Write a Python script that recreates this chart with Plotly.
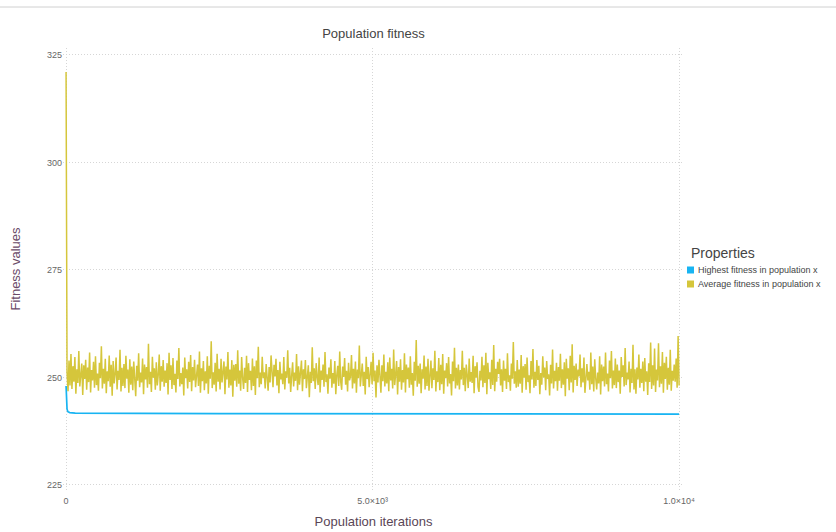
import plotly.graph_objects as go

# Best (lowest) fitness in the population per iteration
best_iter = [0, 8, 16, 30, 60, 150, 400, 1200, 2500, 4600, 5100, 7500, 10000]
best_fit = [248.0, 244.8, 242.6, 242.0, 241.8, 241.7, 241.65, 241.6, 241.58,
            241.55, 241.5, 241.48, 241.45]

# Average fitness: first iterations, then sampled every 16 iterations
avg_head_iter = [0, 3, 6, 10]
avg_head_fit = [321.0, 296.0, 277.0, 262.0]
avg_step = 16
avg_fit_tail = [
    251.2, 246.8, 253.9, 248.1, 255.4, 247.3, 252.6, 249.0, 254.7, 246.2, 251.9, 248.7, 256.1, 247.9, 250.4, 253.2, 245.9, 252.8, 249.6, 254.1,
    247.1, 252.3, 248.9, 255.8, 246.5, 251.7, 249.3, 253.6, 247.6, 254.9, 248.2, 250.9, 246.9, 253.4, 249.8, 257.2, 247.4, 252.0, 248.5, 254.3,
    246.3, 251.4, 249.1, 255.1, 247.8, 252.9, 245.7, 253.8, 248.6, 250.7, 254.6, 247.2, 251.5, 249.4, 256.4, 246.7, 252.2, 248.0, 253.1, 247.5,
    255.0, 249.7, 251.8, 246.4, 254.2, 248.3, 252.5, 247.0, 253.7, 250.1, 245.6, 252.7, 249.2, 255.6, 247.7, 251.1, 248.8, 254.4, 246.1, 253.0,
    249.5, 252.4, 247.6, 257.8, 248.4, 251.3, 246.6, 254.8, 249.9, 252.1, 247.1, 253.5, 248.1, 250.6, 255.3, 246.9, 252.6, 249.0, 254.0, 247.8,
    251.6, 248.7, 253.3, 246.0, 255.7, 249.4, 252.8, 247.3, 254.5, 248.2, 250.8, 246.5, 253.9, 249.6, 256.8, 247.9, 251.0, 248.4, 252.3, 245.8,
    254.6, 249.8, 251.9, 247.4, 253.6, 248.9, 255.2, 246.8, 252.4, 249.3, 254.1, 247.7, 250.5, 253.0, 248.0, 256.0, 246.4, 252.1, 249.1, 253.8,
    247.0, 251.4, 248.6, 254.9, 246.2, 252.7, 249.7, 258.4, 247.5, 251.2, 248.3, 253.4, 246.7, 255.5, 249.0, 252.0, 247.2, 254.3, 248.8, 250.9,
    253.7, 246.1, 252.5, 249.5, 255.9, 247.6, 251.8, 248.1, 254.0, 245.5, 252.9, 249.2, 253.1, 247.8, 256.3, 248.5, 251.6, 246.9, 254.7, 249.9,
    247.3, 252.2, 248.7, 255.0, 246.6, 253.3, 249.4, 251.5, 247.0, 254.4, 248.0, 252.6, 245.9, 253.9, 249.8, 257.1, 247.7, 251.1, 248.4, 254.8,
    249.8, 251.2, 247.4, 253.1, 250.6, 246.9, 252.4, 248.8, 255.1, 249.3, 247.7, 252.9, 250.2, 254.3, 248.1, 251.7, 246.3, 253.6, 249.5, 250.9,
    248.4, 254.7, 247.2, 251.4, 249.9, 256.3, 248.6, 252.2, 246.6, 250.4, 253.5, 247.9, 251.1, 249.2, 255.4, 247.0, 252.6, 248.3, 250.8, 253.9,
    246.8, 251.9, 249.6, 254.0, 247.5, 250.3, 252.8, 245.4, 251.3, 248.7, 257.0, 249.1, 252.1, 247.3, 253.3, 250.0, 248.2, 254.6, 246.5, 251.6,
    249.4, 253.0, 247.8, 255.9, 248.9, 250.7, 246.2, 252.3, 249.7, 254.2, 247.6, 251.0, 248.5, 253.8, 246.1, 250.5, 252.7, 248.0, 256.0, 249.0,
    247.1, 252.5, 250.1, 254.5, 248.3, 251.5, 246.7, 253.4, 249.3, 250.2, 255.2, 247.4, 252.0, 248.6, 253.7, 246.4, 251.8, 249.8, 257.4, 247.9,
    250.6, 253.2, 248.0, 251.3, 246.0, 254.8, 249.6, 252.4, 247.7, 250.9, 253.6, 248.4, 255.7, 249.1, 251.6, 245.3, 252.8, 248.8, 254.1, 250.3,
    246.4, 252.8, 249.1, 255.3, 247.9, 251.3, 248.6, 253.5, 246.8, 254.6, 249.3, 252.0, 247.4, 256.5, 248.2, 250.7, 253.8, 246.0, 252.4, 249.0,
    254.2, 247.1, 251.7, 248.8, 255.6, 246.5, 253.0, 249.6, 252.3, 247.6, 254.9, 248.3, 251.0, 245.7, 253.6, 249.2, 258.7, 247.8, 252.7, 248.5,
    253.2, 246.3, 251.9, 249.7, 255.1, 247.2, 252.5, 248.0, 254.3, 246.9, 250.6, 253.9, 247.5, 252.1, 249.4, 256.2, 246.7, 251.4, 248.9, 254.5,
    247.0, 252.9, 248.4, 255.4, 246.2, 251.6, 249.8, 253.3, 247.9, 254.7, 248.6, 250.8, 245.8, 253.7, 249.1, 256.9, 247.4, 252.2, 248.1, 253.0,
    247.2, 251.7, 249.5, 256.2, 248.2, 252.2, 246.8, 253.0, 250.4, 247.5, 254.4, 249.0, 251.2, 248.7, 255.0, 246.3, 252.6, 249.9, 253.5, 247.8,
    246.6, 251.5, 249.3, 254.8, 247.7, 252.8, 248.7, 255.7, 246.1, 253.4, 249.6, 251.2, 247.3, 254.1, 248.2, 257.5, 246.8, 252.0, 249.0, 253.6,
    250.8, 254.3, 248.1, 251.9, 246.6, 253.9, 249.2, 252.0, 247.3, 255.6, 248.9, 250.5, 246.9, 253.2, 249.7, 258.2, 248.5, 251.4, 247.6, 254.0,
    247.8, 251.8, 248.5, 255.2, 246.4, 252.6, 249.9, 253.1, 247.1, 254.6, 248.9, 250.5, 246.3, 253.8, 249.5, 256.6, 247.6, 251.3, 248.0, 254.0,
    249.4, 252.7, 246.1, 251.0, 248.3, 254.9, 250.0, 252.3, 247.0, 253.8, 249.6, 250.7, 245.8, 252.9, 248.6, 256.5, 247.4, 251.5, 249.1, 253.4,
    246.9, 252.4, 249.2, 255.5, 247.5, 251.9, 248.3, 253.5, 245.6, 254.3, 249.7, 252.1, 247.0, 255.0, 248.8, 257.7, 246.5, 252.7, 249.4, 253.2,
    248.0, 251.8, 250.2, 255.3, 247.7, 252.1, 248.8, 254.6, 246.4, 250.6, 253.1, 249.3, 251.3, 247.1, 255.8, 248.4, 252.5, 246.7, 254.2, 249.8,
    247.2, 251.1, 248.6, 254.9, 246.0, 253.0, 249.1, 252.5, 247.9, 255.8, 248.4, 250.9, 246.7, 253.9, 249.8, 256.1, 247.4, 251.6, 248.2, 254.4,
    247.5, 253.0, 248.9, 251.6, 246.2, 254.7, 250.1, 252.8, 247.9, 256.8, 248.2, 251.1, 249.5, 253.7, 246.5, 252.0, 248.7, 257.6, 247.2, 251.9,
    246.2, 252.3, 249.5, 255.3, 247.6, 252.0, 248.7, 253.7, 246.8, 254.5, 249.0, 251.4, 245.9, 253.3, 248.9, 258.1, 247.3, 252.8, 248.1, 256.7,
    246.6, 251.8, 249.3, 257.9, 247.7, 252.6, 248.5, 255.9, 246.4, 253.4, 249.6, 254.8, 247.1, 252.2, 248.3, 256.4, 246.9, 251.5, 249.2, 253.0,
    249.0, 254.4, 247.6, 259.6, 248.1,
]

avg_iter = avg_head_iter + [avg_step * (i + 1) for i in range(len(avg_fit_tail))]
avg_fit = avg_head_fit + avg_fit_tail

x_tick_vals = [0, 5000, 10000]
x_tick_text = ["0", "5.0×10³", "1.0×10⁴"]
y_tick_vals = [225, 250, 275, 300, 325]

legend_title = "Properties"
series_names = ["Highest fitness in population x", "Average fitness in population x"]
series_colors = ["#18b4f2", "#d5c63b"]

FONT = "Liberation Sans, Arial, sans-serif"

# Plot-area geometry in pixels, used to place the side legend in paper units
PLOT_L, PLOT_R, PLOT_T, PLOT_B = 63, 684, 48, 490
PW, PH = PLOT_R - PLOT_L, PLOT_B - PLOT_T


def px_x(px):
    return (px - PLOT_L) / PW


def px_y(py):
    return (PLOT_B - py) / PH


fig = go.Figure()

# Average fitness drawn first so the best-fitness line stays on top
fig.add_trace(go.Scatter(
    x=avg_iter, y=avg_fit, mode="lines", name=series_names[1],
    line=dict(color=series_colors[1], width=1.5),
    showlegend=False, hoverinfo="skip",
))
fig.add_trace(go.Scatter(
    x=best_iter, y=best_fit, mode="lines", name=series_names[0],
    line=dict(color=series_colors[0], width=1.7),
    showlegend=False, hoverinfo="skip",
))

# Side legend: title, square swatches and labels
annotations = [dict(
    text=legend_title, xref="paper", yref="paper",
    x=px_x(689), y=px_y(253), xanchor="left", yanchor="middle",
    showarrow=False, font=dict(size=14, color="#444", family=FONT),
)]
shapes = []
for i, (name, color) in enumerate(zip(series_names, series_colors)):
    cy = 270 + 14 * i
    shapes.append(dict(
        type="rect", xref="paper", yref="paper",
        x0=px_x(687), x1=px_x(694), y0=px_y(cy + 3.5), y1=px_y(cy - 3.5),
        fillcolor=color, line=dict(width=0),
    ))
    annotations.append(dict(
        text=name, xref="paper", yref="paper",
        x=px_x(696), y=px_y(cy), xanchor="left", yanchor="middle",
        showarrow=False, font=dict(size=9, color="#444", family=FONT),
    ))

# Thin rule across the top of the page
shapes.append(dict(
    type="line", xref="paper", yref="paper",
    x0=px_x(0), x1=px_x(836), y0=px_y(7), y1=px_y(7),
    line=dict(color="#d0d0d0", width=1),
))

fig.update_layout(
    width=836, height=532,
    margin=dict(l=PLOT_L, r=836 - PLOT_R, t=PLOT_T, b=532 - PLOT_B, autoexpand=False),
    paper_bgcolor="white", plot_bgcolor="white",
    font=dict(family=FONT, color="#555"),
    showlegend=False,
    title=dict(
        text="Population fitness", x=0.5, xref="paper",
        y=1 - 33 / 532, yref="container", yanchor="middle", xanchor="center",
        font=dict(size=13, color="#444", family=FONT),
    ),
    xaxis=dict(
        range=[-50, 10080],
        tickvals=x_tick_vals, ticktext=x_tick_text,
        tickfont=dict(size=9, color="#666"),
        ticklabelstandoff=4,
        showgrid=True, gridcolor="#d6d6d6", griddash="1px,2px", gridwidth=1,
        zeroline=False, showline=False, ticks="",
        title=dict(text="Population iterations", standoff=11,
                   font=dict(size=13, color="#5a4656")),
    ),
    yaxis=dict(
        range=[223.8, 326.6],
        tickvals=y_tick_vals,
        tickfont=dict(size=9, color="#666"),
        showgrid=True, gridcolor="#d6d6d6", griddash="1px,2px", gridwidth=1,
        zeroline=False, showline=False, ticks="",
        title=dict(text="Fitness values", standoff=23,
                   font=dict(size=13, color="#6a4a68")),
    ),
    annotations=annotations,
    shapes=shapes,
)

fig.write_html("out.html")
